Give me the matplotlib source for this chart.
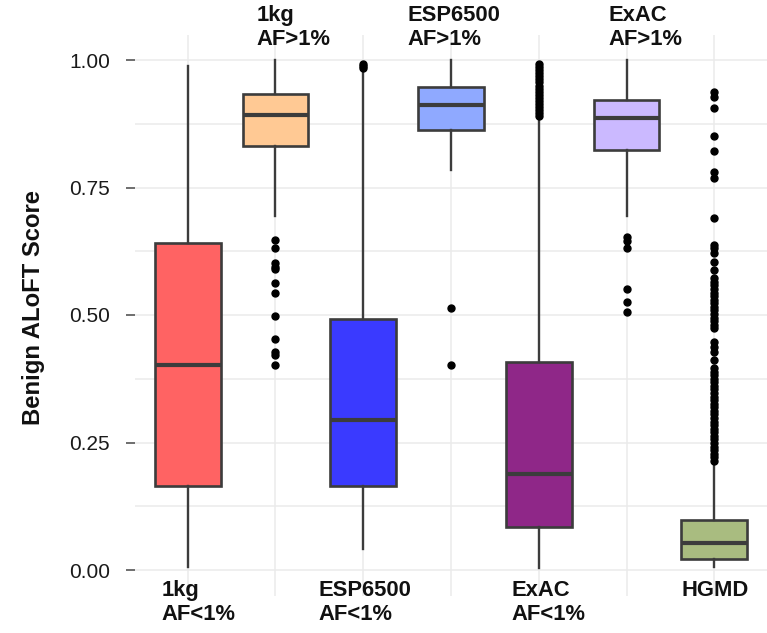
import matplotlib
matplotlib.use('Agg')
import matplotlib.pyplot as plt
import matplotlib.transforms as mtransforms
from matplotlib.ticker import MultipleLocator, FormatStrFormatter

# ---------------- data ----------------
categories = ['1kg\nAF<1%', '1kg\nAF>1%', 'ESP6500\nAF<1%', 'ESP6500\nAF>1%',
              'ExAC\nAF<1%', 'ExAC\nAF>1%', 'HGMD']
whislo = [0.006, 0.694, 0.041, 0.784, 0.004, 0.694, 0.005]
q1     = [0.165, 0.832, 0.165, 0.863, 0.084, 0.824, 0.021]
med    = [0.402, 0.892, 0.295, 0.911, 0.188, 0.887, 0.052]
q3     = [0.642, 0.933, 0.492, 0.948, 0.407, 0.922, 0.098]
whishi = [0.989, 1.000, 0.980, 1.000, 0.885, 1.000, 0.209]

fliers_1kg_lo = []
fliers_1kg_hi = [0.647, 0.631, 0.602, 0.594, 0.590, 0.563, 0.543, 0.498,
                 0.453, 0.427, 0.422, 0.402]
fliers_esp_lo = [0.984, 0.988, 0.992]
fliers_esp_hi = [0.513, 0.402]
fliers_exac_lo = [0.992, 0.986, 0.980, 0.974, 0.968, 0.962, 0.956, 0.950,
                  0.944, 0.938, 0.932, 0.926, 0.920, 0.914, 0.908, 0.902,
                  0.896, 0.890]
fliers_exac_hi = [0.653, 0.645, 0.632, 0.551, 0.526, 0.505]
fliers_hgmd = [0.937, 0.928, 0.906, 0.851, 0.822, 0.780, 0.769, 0.690,
               0.637, 0.631, 0.622, 0.604, 0.588, 0.573, 0.565, 0.558,
               0.551, 0.544, 0.537, 0.530, 0.523, 0.516, 0.509, 0.502,
               0.495, 0.488, 0.481, 0.474, 0.447, 0.437, 0.427, 0.412,
               0.396, 0.389, 0.382, 0.375, 0.368, 0.361, 0.354, 0.347,
               0.340, 0.333, 0.326, 0.319, 0.312, 0.305, 0.298, 0.291,
               0.284, 0.277, 0.270, 0.263, 0.256, 0.249, 0.242, 0.235,
               0.228, 0.221, 0.214]
fliers = [fliers_1kg_lo, fliers_1kg_hi, fliers_esp_lo, fliers_esp_hi,
          fliers_exac_lo, fliers_exac_hi, fliers_hgmd]

y_ticks = [0.00, 0.25, 0.50, 0.75, 1.00]
y_label = 'Benign ALoFT Score'

# ---------------- style ----------------
colors = ['#FF6363', '#FFC994', '#3A3AFF', '#8FA9FF', '#8F2788', '#CBB9FF', '#A9BC80']
label_dx = [-0.296, -0.216, -0.513, -0.501, -0.307, -0.205, -0.376]
edge = '#3C3C3C'

plt.rcParams['font.family'] = ['Liberation Sans', 'DejaVu Sans']

fig = plt.figure(figsize=(7.67, 6.33), dpi=100)
ax = fig.add_axes([135 / 767, 37.5 / 633, 632 / 767, 561 / 633])

stats = []
for i in range(len(categories)):
    stats.append(dict(med=med[i], q1=q1[i], q3=q3[i], whislo=whislo[i],
                      whishi=whishi[i], fliers=fliers[i], label=''))

pos = list(range(len(categories)))
bp = ax.bxp(stats, positions=pos, widths=0.75, patch_artist=True, showcaps=False,
            boxprops=dict(edgecolor=edge, linewidth=1.9),
            medianprops=dict(color=edge, linewidth=3.0),
            whiskerprops=dict(color=edge, linewidth=1.7),
            flierprops=dict(marker='o', markerfacecolor='black', markeredgecolor='black',
                            markersize=5.0, linestyle='none'))
for patch, c in zip(bp['boxes'], colors):
    patch.set_facecolor(c)

ax.set_xlim(-0.6, len(categories) - 0.4)
ax.set_ylim(-0.05, 1.05)

for s in ax.spines.values():
    s.set_visible(False)

ax.set_axisbelow(True)
ax.yaxis.set_major_locator(plt.FixedLocator(y_ticks))
ax.yaxis.set_minor_locator(MultipleLocator(0.125))
ax.yaxis.set_major_formatter(FormatStrFormatter('%.2f'))
ax.grid(True, axis='y', which='both', color='#EBEBEB', linewidth=1.1)
ax.set_xticks(pos)
ax.set_xticklabels([''] * len(pos))
ax.grid(True, axis='x', which='major', color='#EBEBEB', linewidth=1.1)
ax.tick_params(axis='x', length=0)
ax.tick_params(axis='y', which='major', length=6.5, width=1.2, color='#555555',
               pad=11.5, labelsize=15, labelcolor='#1A1A1A')
ax.tick_params(axis='y', which='minor', length=0)

trans = mtransforms.blended_transform_factory(ax.transData, fig.transFigure)
for i, lab in enumerate(categories):
    ytext = 1 - 5 / 633 if i % 2 == 1 else 1 - 580 / 633
    ax.text(i + label_dx[i], ytext, lab, transform=trans, ha='left', va='top',
            multialignment='left', fontsize=15.8, fontweight='bold',
            color='#111111', linespacing=1.2, clip_on=False)

fig.text(34 / 767, 1 - 307.5 / 633, y_label, rotation=90, ha='center', va='center',
         fontsize=17.2, fontweight='bold', color='#111111')

fig.savefig('out.png', dpi=100)
